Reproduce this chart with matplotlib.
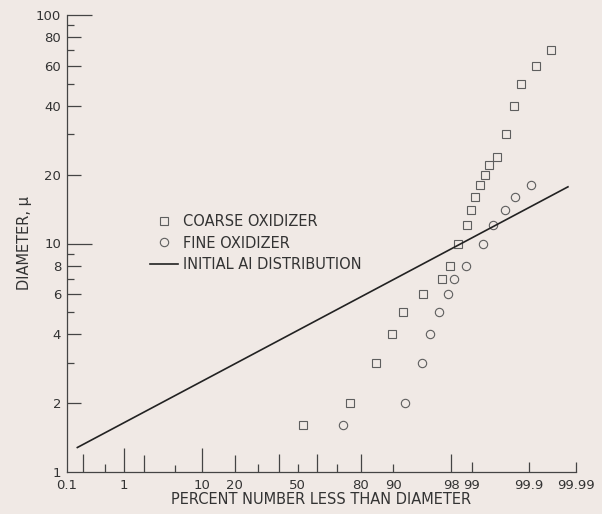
import numpy as np
import matplotlib
matplotlib.use("Agg")
import matplotlib.pyplot as plt
from matplotlib.ticker import FixedLocator, FixedFormatter, NullLocator
from statistics import NormalDist

# ---------------- data ----------------
coarse_pct = [53.0, 75.8, 85.2, 89.6, 92.0, 95.3, 97.3, 97.9, 98.42, 98.81, 98.98,
              99.13, 99.27, 99.40, 99.48, 99.61, 99.73, 99.81, 99.858, 99.928, 99.9656]
coarse_diam = [1.6, 2, 3, 4, 5, 6, 7, 8, 10, 12, 14,
               16, 18, 20, 22, 24, 30, 40, 50, 60, 70]

fine_pct = [72.9, 92.5, 95.2, 96.2, 97.1, 97.8, 98.17, 98.80, 99.34, 99.55, 99.72, 99.82, 99.909]
fine_diam = [1.6, 2, 3, 4, 5, 6, 7, 8, 10, 12, 14, 16, 18]

al_pct = [0.16, 99.985]
al_diam = [1.28, 17.7]

x_ticks = [0.1, 0.2, 0.5, 1, 2, 5, 10, 20, 30, 40, 50, 60, 70, 80, 90, 98, 99, 99.9, 99.99]
x_labels = ["0.1", "", "", "1", "", "", "10", "20", "", "", "50", "", "", "80", "90",
            "98", "99", "99.9", "99.99"]
x_len = [0, 13, 6, 17, 12, 5, 17, 12, 6, 13, 6, 13, 6, 13, 6, 13, 7, 7, 7]

y_ticks = [1, 2, 3, 4, 5, 6, 7, 8, 9, 10, 20, 30, 40, 50, 60, 70, 80, 90, 100]
y_labels = ["1", "2", "", "4", "", "6", "", "8", "", "10", "20", "", "40", "", "60", "",
            "80", "", "100"]
y_len = [0, 10, 5, 10, 5, 10, 5, 10, 5, 18, 10, 5, 10, 5, 10, 5, 10, 5, 18]

# ---------------- style ----------------
BG = "#f0e9e5"
INK = "#333333"
MK = "#5e5e5e"
FONT = "DejaVu Sans"
FS = 9.5
FS_LAB = 10.5

_nd = NormalDist()


def fwd(p):
    p = np.asarray(p, dtype=float)
    q = np.clip(p / 100.0, 1e-9, 1 - 1e-9)
    return np.vectorize(_nd.inv_cdf, otypes=[float])(q)


def inv(z):
    z = np.asarray(z, dtype=float)
    return 100.0 * np.vectorize(_nd.cdf, otypes=[float])(z)


plt.rcParams["font.family"] = FONT

fig = plt.figure(figsize=(6.02, 5.14), dpi=100, facecolor=BG)
ax = fig.add_axes([66.7 / 602, 1 - 472 / 514, (575.7 - 66.7) / 602, (472 - 15) / 514])
ax.set_facecolor(BG)

ax.set_xscale("function", functions=(fwd, inv))
ax.set_yscale("log")
ax.set_xlim(0.1, 99.99)
ax.set_ylim(1, 100)

ax.plot(coarse_pct, coarse_diam, linestyle="none", marker="s", markersize=5.6,
        markerfacecolor="none", markeredgecolor=MK, markeredgewidth=0.8,
        label="COARSE OXIDIZER", clip_on=False)
ax.plot(fine_pct, fine_diam, linestyle="none", marker="o", markersize=6.0,
        markerfacecolor="none", markeredgecolor=MK, markeredgewidth=0.8,
        label="FINE OXIDIZER", clip_on=False)
ax.plot(al_pct, al_diam, color="#222222", linewidth=1.2, label="INITIAL AI DISTRIBUTION")

for s in ["top", "right"]:
    ax.spines[s].set_visible(False)
for s in ["left", "bottom"]:
    ax.spines[s].set_color("#444444")
    ax.spines[s].set_linewidth(0.9)

ax.xaxis.set_major_locator(FixedLocator(x_ticks))
ax.xaxis.set_major_formatter(FixedFormatter(x_labels))
ax.xaxis.set_minor_locator(NullLocator())
ax.yaxis.set_major_locator(FixedLocator(y_ticks))
ax.yaxis.set_major_formatter(FixedFormatter(y_labels))
ax.yaxis.set_minor_locator(NullLocator())

ax.tick_params(axis="both", direction="in", colors="#444444", labelcolor=INK,
               labelsize=FS, width=0.9)
ax.tick_params(axis="x", pad=5)
ax.tick_params(axis="y", pad=4)

fig.canvas.draw()
for t, L in zip(ax.xaxis.get_major_ticks(), x_len):
    t.tick1line.set_markersize(L)
for t, L in zip(ax.yaxis.get_major_ticks(), y_len):
    t.tick1line.set_markersize(L)

ax.set_xlabel("PERCENT NUMBER LESS THAN DIAMETER", fontsize=FS_LAB, color=INK, labelpad=0)
ax.set_ylabel("DIAMETER, \u03bc", fontsize=FS_LAB, color=INK, labelpad=3)

leg = ax.legend(loc="upper left", bbox_to_anchor=(150 / 602, 1 - 214 / 514),
                bbox_transform=fig.transFigure, frameon=False, fontsize=FS_LAB,
                borderpad=0, borderaxespad=0, handlelength=1.9, handletextpad=0.35,
                labelspacing=0.45, labelcolor=INK)

fig.savefig("out.png", dpi=100, facecolor=BG)
